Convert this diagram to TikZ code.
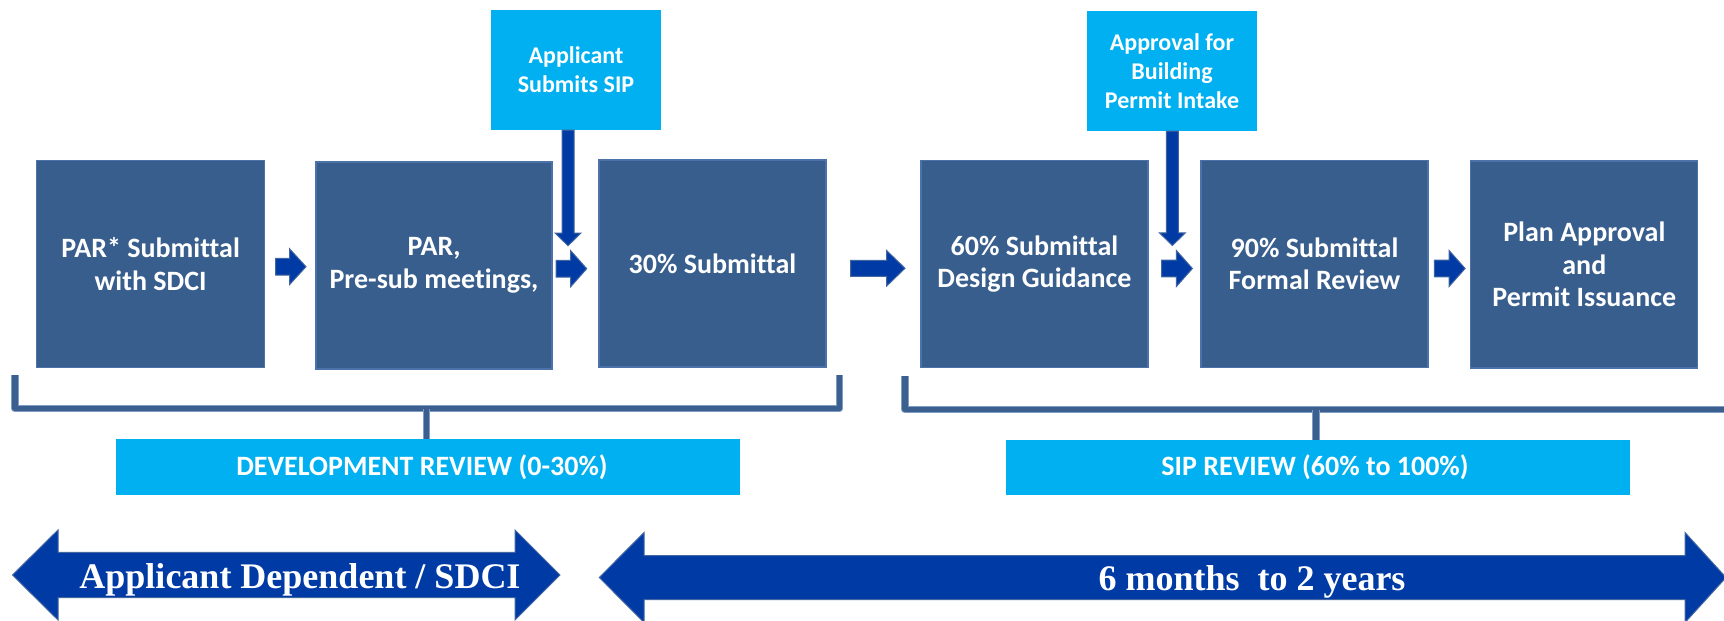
\documentclass[tikz,border=0pt]{standalone}
\usepackage{fontspec}
\newfontfamily\calfont{Carlito}[Ligatures=NoCommon]
\newfontfamily\timesfont{Liberation Serif}
\usetikzlibrary{calc}
\definecolor{boxfill}{HTML}{385E8D}
\definecolor{boxline}{HTML}{4C72AA}
\definecolor{skyfill}{HTML}{00B0F0}
\definecolor{arrfill}{HTML}{003BA5}
\definecolor{arrline}{HTML}{4366A0}
\definecolor{brk}{HTML}{3B5F8E}
\definecolor{brkedge}{HTML}{7F9CC4}
\newcommand\hblk[6]{\filldraw[blk] (#1,#3-#5) -- ({#2-#4},#3-#5) -- ({#2-#4},#3-#6) -- (#2,#3) -- ({#2-#4},#3+#6) -- ({#2-#4},#3+#5) -- (#1,#3+#5) -- cycle;}
\newcommand\vblk[6]{\filldraw[blk] (#1-#5,#2) -- (#1+#5,#2) -- (#1+#5,{#3-#4}) -- (#1+#6,{#3-#4}) -- (#1,#3) -- (#1-#6,{#3-#4}) -- (#1-#5,{#3-#4}) -- cycle;}
\newcommand\dblk[7]{\filldraw[blk] (#1,#3) -- ({#1+#4},#3-#7) -- ({#1+#4},#3-#6) -- ({#2-#5},#3-#6) -- ({#2-#5},#3-#7) -- (#2,#3) -- ({#2-#5},#3+#7) -- ({#2-#5},#3+#6) -- ({#1+#4},#3+#6) -- ({#1+#4},#3+#7) -- cycle;}
\begin{document}
\begin{tikzpicture}[x=1pt,y=-1pt,
  stepbox/.style={fill=boxfill, draw=boxline, line width=1.2pt, text=white,
    font=\calfont\bfseries\fontsize{28}{32.5}\selectfont, align=center,
    inner sep=0pt, minimum width=227pt, minimum height=207pt},
  skybox/.style={fill=skyfill, text=white,
    font=\calfont\bfseries\fontsize{24}{29}\selectfont, align=center,
    inner sep=0pt, minimum width=170pt, minimum height=120pt},
  band/.style={fill=skyfill, inner sep=0pt, minimum width=624pt, minimum height=56pt},
  bandtext/.style={text=white, font=\calfont\bfseries\fontsize{28}{32}\selectfont, inner sep=0pt},
  blk/.style={fill=arrfill, draw=arrline, line width=1pt, line join=miter},
  brace/.style={draw=brkedge, double=brk, double distance=5.5pt, line width=0.9pt, line join=round},
  bigtext/.style={text=white, font=\timesfont\bfseries\fontsize{36}{40}\selectfont, inner sep=0pt}]
\useasboundingbox (0,0) rectangle (1724,621);
\fill[white] (0,0) rectangle (1724,621);

% bracket corner points
\coordinate (dl) at (15,375);
\coordinate (dr) at (839.5,375);
\coordinate (ds) at (426.7,408.5);
\coordinate (sl) at (905,376);
\coordinate (sr) at (1730,409.5);
\coordinate (ss) at (1316,409.5);

% main boxes
\node[stepbox, minimum width=227.6pt] (b1) at (150.6,264) {PAR* Submittal\\with SDCI};
\node[stepbox, minimum width=236pt] (b2) at (434,265.5) {PAR,\\Pre-sub meetings,};
\node[stepbox] (b3) at (712.5,263.5) {30\% Submittal};
\node[stepbox] (b4) at (1034.4,264) {60\% Submittal\\Design Guidance};
\node[stepbox] (b5) at (1314.5,264) {90\% Submittal\\Formal Review};
\node[stepbox] (b6) at (1584.3,264.5) {Plan Approval\\and\\Permit Issuance};

% top boxes
\node[skybox] (sip) at (576,70) {Applicant\\Submits SIP};
\node[skybox, minimum width=170.5pt] (appr) at (1172,71) {Approval for\\Building\\Permit Intake};

% review bands
\node[band] (dev) at (428,467) {};
\node[bandtext] (devt) at ($(dev.center)+(-6,0)$) {DEVELOPMENT REVIEW (0-30\%)};
\node[band, minimum height=55pt] (sipr) at (1318,467.5) {};
\node[bandtext] (siprt) at ($(sipr.center)+(-3,0)$) {SIP REVIEW (60\% to 100\%)};

% brackets
\draw[brace] (dl) |- (ds) -| (dr);
\draw[brace] (ds) -- (ds |- dev.north);
\draw[brace] (sl) |- (sr);
\draw[brace] (ss) -- (ss |- sipr.north);

% small block arrows
\hblk{275.5}{306}{266.7}{16.5}{8.3}{18}
\hblk{556}{586.7}{268.7}{16}{8.3}{18}
\hblk{850.7}{905}{268.3}{18.3}{8}{17.7}
\hblk{1161.6}{1192.4}{268.5}{16}{8.3}{18}
\hblk{1434.3}{1465.1}{268.5}{16}{8.3}{18}

% vertical arrows
\vblk{568}{130}{245.7}{12.7}{6}{13}
\vblk{1172.4}{131}{245.5}{12.7}{6}{13}

% bottom double arrows
\dblk{12.5}{560}{575}{45.5}{45}{22.7}{45}
\dblk{599.3}{1726}{577.5}{44.7}{41}{22}{45}

\node[bigtext] (t1) at (300,580) {Applicant Dependent / SDCI};
\node[bigtext] (t2) at (1252,581.5) {6 months\ \ to 2 years};
\end{tikzpicture}
\end{document}
